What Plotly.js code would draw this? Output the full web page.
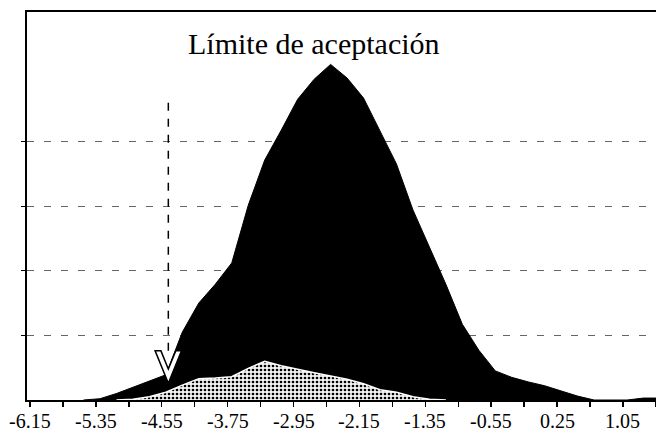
<!DOCTYPE html>
<html>
<head>
<meta charset="utf-8">
<script src="https://cdn.plot.ly/plotly-3.0.1.min.js"></script>
<style>html,body{margin:0;padding:0;background:#fff;}#chart{width:656px;height:433px;}</style>
</head>
<body>
<div id="chart"></div>
<script>
// x positions of the frequency polygon (class marks)
const xValues = [-5.5, -5.3, -5.1, -4.9, -4.7, -4.5, -4.3, -4.1, -3.9, -3.7, -3.5, -3.3, -3.1, -2.9, -2.7, -2.5, -2.3, -2.1, -1.9, -1.7, -1.5, -1.3, -1.1, -0.9, -0.7, -0.5, -0.3, -0.1, 0.1, 0.3, 0.5, 0.7, 0.9, 1.1, 1.3, 1.5];
// total distribution (black)
const totalValues = [0, 0.2, 1.0, 2.0, 2.9, 3.9, 10.5, 15.0, 17.9, 21.2, 30.1, 37.1, 41.7, 46.5, 49.6, 51.9, 49.8, 46.7, 41.6, 36.5, 29.4, 23.6, 17.9, 11.7, 7.7, 4.5, 3.5, 2.8, 2.2, 1.4, 0.6, 0, 0, 0, 0.3, 0.3];
// sub-distribution (stippled grey)
const subX = [-5.1, -4.9, -4.7, -4.5, -4.3, -4.1, -3.9, -3.7, -3.5, -3.3, -3.1, -2.9, -2.7, -2.5, -2.3, -2.1, -1.9, -1.7, -1.5, -1.3, -1.1];
const subValues = [0, 0.1, 0.5, 1.2, 2.3, 3.3, 3.4, 3.6, 4.9, 6.0, 5.3, 4.7, 4.2, 3.7, 3.2, 2.5, 1.6, 1.2, 0.5, 0.1, 0];
// tick labels
const tickValues = [-6.15, -5.35, -4.55, -3.75, -2.95, -2.15, -1.35, -0.55, 0.25, 1.05];
const tickLabels = ['-6.15', '-5.35', '-4.55', '-3.75', '-2.95', '-2.15', '-1.35', '-0.55', '0.25', '1.05'];
const gridValues = [10, 20, 30, 40];
const acceptLimit = -4.47;
const limitLabel = 'Límite de aceptación';

const serif = '"Liberation Serif", "Times New Roman", serif';

const traces = [
  {
    x: xValues, y: totalValues, type: 'scatter', mode: 'lines',
    line: {color: '#000', width: 1}, fill: 'tozeroy', fillcolor: '#000',
    hoverinfo: 'skip', showlegend: false
  },
  {
    x: subX, y: subValues, type: 'scatter', mode: 'lines',
    line: {color: '#fff', width: 1.5}, fill: 'tozeroy', fillcolor: '#e6e6e6',
    fillpattern: {shape: '.', bgcolor: '#f2f2f2', fgcolor: '#000', size: 4, solidity: 0.35},
    hoverinfo: 'skip', showlegend: false
  }
];

const aw = 0.16, ai = 0.09;
const yTip = 2.6, yTop = 7.6, yInner = 4.8;
const vPath = 'M' + (acceptLimit - aw) + ',' + yTop + ' L' + acceptLimit + ',' + yTip + ' L' + (acceptLimit + aw) + ',' + yTop +
  ' L' + (acceptLimit + ai) + ',' + yTop + ' L' + acceptLimit + ',' + yInner + ' L' + (acceptLimit - ai) + ',' + yTop + ' Z';

const tickAnnotations = tickValues.map((v, i) => ({
  text: tickLabels[i], xref: 'x', yref: 'paper', x: v, y: -0.053,
  xanchor: 'center', yanchor: 'middle', showarrow: false,
  font: {family: serif, size: 20, color: '#000'}
}));

const layout = {
  width: 656, height: 433,
  margin: {l: 27, r: 0, t: 12, b: 33},
  paper_bgcolor: '#fff', plot_bgcolor: '#fff',
  showlegend: false,
  xaxis: {
    range: [-6.186, 1.451],
    tickvals: tickValues, showticklabels: false,
    ticks: 'outside', ticklen: 5, tickcolor: '#000', tickwidth: 1.5,
    minor: {tick0: -6.15, dtick: 0.4, ticks: 'outside', ticklen: 5, tickcolor: '#000', tickwidth: 1.5, showgrid: false},
    showgrid: false, zeroline: false,
    showline: true, linecolor: '#000', linewidth: 2, mirror: true,
    automargin: false
  },
  yaxis: {
    range: [0, 60],
    tickvals: gridValues, showticklabels: false,
    ticks: 'outside', ticklen: 4, tickcolor: '#000',
    showgrid: true, gridcolor: '#666', gridwidth: 1, griddash: '7px,10px',
    zeroline: false,
    showline: true, linecolor: '#000', linewidth: 2, mirror: false
  },
  shapes: [
    {type: 'line', xref: 'x', yref: 'y', x0: acceptLimit, x1: acceptLimit, y0: yTop, y1: 46.4,
     line: {color: '#000', width: 1.5, dash: '8px,8px'}},
    {type: 'path', xref: 'x', yref: 'y', path: vPath, fillcolor: '#fff', line: {color: '#000', width: 1.5}}
  ],
  annotations: [
    {text: limitLabel, xref: 'paper', yref: 'paper', x: 0.456, y: 0.92, xanchor: 'center', yanchor: 'middle',
     showarrow: false, font: {family: serif, size: 30, color: '#000'}}
  ].concat(tickAnnotations)
};

Plotly.newPlot('chart', traces, layout, {displayModeBar: false, staticPlot: true});
</script>
</body>
</html>
